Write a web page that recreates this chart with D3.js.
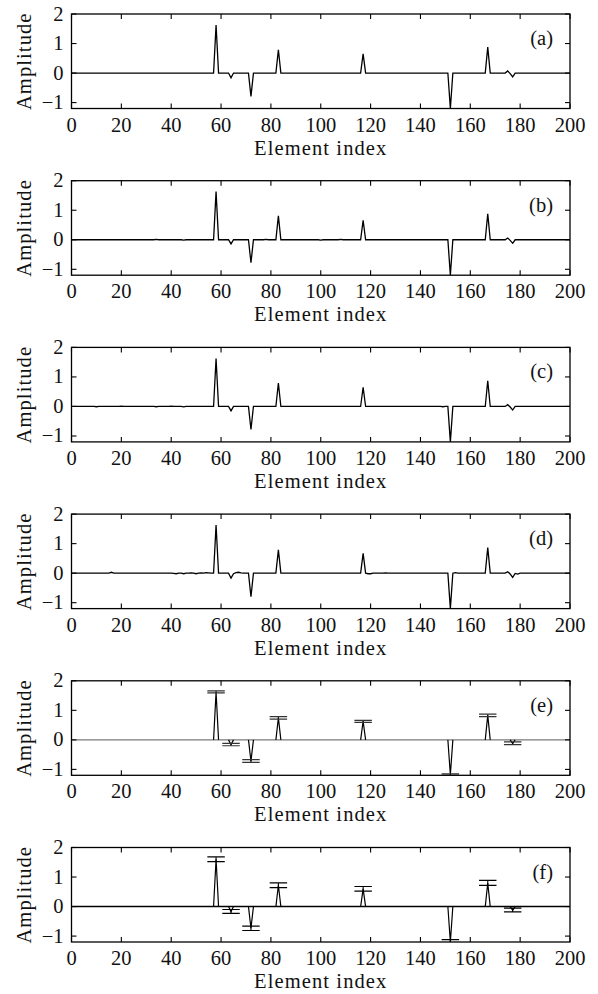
<!DOCTYPE html>
<html>
<head>
<meta charset="utf-8">
<script src="https://cdn.jsdelivr.net/npm/d3@7/dist/d3.min.js"></script>
<style>
  html, body { margin: 0; padding: 0; background: #fff; }
  svg { display: block; }
  text { font-family: "Liberation Serif", "Times New Roman", serif; fill: #111; }
</style>
</head>
<body>
<svg id="chart" width="598" height="994"></svg>
<script>
// Sparse signals: [element index, amplitude] for every non-zero element.
const signalA = [[58,1.63],[64,-0.16],[72,-0.79],[83,0.79],[117,0.65],[152,-1.2],[167,0.88],[175,0.07],[176,-0.02],[177,-0.13]];
const signalB = [[34,0.01],[45,-0.01],[58,1.63],[64,-0.14],[72,-0.78],[78,0.01],[83,0.81],[100,-0.01],[108,0.01],[117,0.66],[152,-1.2],[167,0.88],[175,0.06],[176,-0.02],[177,-0.12]];
const signalC = [[10,-0.01],[20,0.01],[34,-0.01],[40,0.01],[45,-0.015],[58,1.62],[64,-0.15],[72,-0.78],[83,0.79],[117,0.65],[149,-0.01],[152,-1.2],[167,0.87],[175,0.06],[176,-0.02],[177,-0.12]];
const signalD = [[16,0.03],[41,-0.01],[42,-0.02],[45,-0.02],[48,0.01],[50,-0.02],[52,0.01],[54,0.02],[55,0.01],[58,1.63],[64,-0.17],[65,-0.02],[66,0.02],[67,0.03],[68,0.01],[72,-0.8],[83,0.79],[117,0.67],[119,-0.02],[120,-0.02],[126,0.01],[152,-1.2],[154,0.02],[167,0.87],[175,0.05],[176,-0.03],[177,-0.14],[178,-0.01],[179,-0.03]];

// Estimated support with confidence bounds.
const boundIdx = [58, 64, 72, 83, 117, 152, 167, 177];
const meanE = [1.62, -0.16, -0.72, 0.75, 0.63, -1.18, 0.83, -0.12];
const highE = [1.66, -0.12, -0.67, 0.79, 0.66, -1.15, 0.87, -0.07];
const lowE  = [1.59, -0.20, -0.76, 0.70, 0.59, -1.20, 0.79, -0.16];
const meanF = [1.60, -0.17, -0.73, 0.72, 0.60, -1.20, 0.80, -0.12];
const highF = [1.68, -0.10, -0.66, 0.80, 0.68, -1.12, 0.89, -0.05];
const lowF  = [1.52, -0.23, -0.81, 0.64, 0.52, -1.28, 0.72, -0.18];

const xTicks = [0, 20, 40, 60, 80, 100, 120, 140, 160, 180, 200];
const yTicks = [-1, 0, 1, 2];
const yTickLabels = ["\u22121", "0", "1", "2"];
const panelLabels = ["(a)", "(b)", "(c)", "(d)", "(e)", "(f)"];
const xLabel = "Element index";
const yLabel = "Amplitude";
const nElements = 200;

const svg = d3.select("#chart");
const left = 71.5, right = 570, plotH = 94.5, firstTop = 14, step = 166.7;
const x = d3.scaleLinear().domain([0, nElements]).range([left, right]);

// Expand a sparse signal into a value per element index.
function dense(sparse) {
  const m = new Map(sparse);
  return d3.range(0, nElements + 1).map(i => [i, m.has(i) ? m.get(i) : 0]);
}

function drawPanel(k, opts) {
  const top = firstTop + k * step;
  const bottom = top + plotH;
  const y = d3.scaleLinear().domain([-1.2, 2]).range([bottom, top]);
  const g = svg.append("g");
  const clipId = "clip" + k;
  svg.append("clipPath").attr("id", clipId)
    .append("rect").attr("x", left).attr("y", top).attr("width", right - left).attr("height", plotH);
  const plot = g.append("g").attr("clip-path", `url(#${clipId})`);
  const line = d3.line().x(d => x(d[0])).y(d => y(d[1]));

  if (opts.signal) {
    plot.append("path").datum(dense(opts.signal))
      .attr("d", line).attr("fill", "none").attr("stroke", "#000")
      .attr("stroke-width", 1.3).attr("stroke-linejoin", "miter");
  } else {
    // zero baseline, spikes and bounds
    plot.append("path").datum([[0, 0], [nElements, 0]])
      .attr("d", line).attr("fill", "none").attr("stroke", opts.baseColor).attr("stroke-width", 1.4);
    boundIdx.forEach((idx, i) => {
      plot.append("path").datum([[idx - 1, 0], [idx, opts.mean[i]], [idx + 1, 0]])
        .attr("d", line).attr("fill", "none").attr("stroke", "#000").attr("stroke-width", 1.2);
      plot.append("line")
        .attr("x1", x(idx)).attr("x2", x(idx))
        .attr("y1", y(opts.low[i])).attr("y2", y(opts.high[i]))
        .attr("stroke", "#000").attr("stroke-width", 1.1);
      [opts.low[i], opts.high[i]].forEach(v => {
        plot.append("line")
          .attr("x1", x(idx - 3.5)).attr("x2", x(idx + 3.5))
          .attr("y1", y(v)).attr("y2", y(v))
          .attr("stroke", opts.capColor).attr("stroke-width", 1.2);
      });
    });
  }

  // inward ticks on all four sides
  const tl = 5;
  const ticks = g.append("g").attr("stroke", "#000").attr("stroke-width", 1.1);
  xTicks.forEach(t => {
    ticks.append("line").attr("x1", x(t)).attr("x2", x(t)).attr("y1", bottom).attr("y2", bottom - tl);
    ticks.append("line").attr("x1", x(t)).attr("x2", x(t)).attr("y1", top).attr("y2", top + tl);
  });
  yTicks.forEach(t => {
    ticks.append("line").attr("x1", left).attr("x2", left + tl).attr("y1", y(t)).attr("y2", y(t));
    ticks.append("line").attr("x1", right).attr("x2", right - tl).attr("y1", y(t)).attr("y2", y(t));
  });

  g.append("rect").attr("x", left).attr("y", top).attr("width", right - left).attr("height", plotH)
    .attr("fill", "none").attr("stroke", "#000").attr("stroke-width", 1.3);

  // tick labels
  g.append("g").selectAll("text").data(xTicks).join("text")
    .attr("x", d => x(d)).attr("y", bottom + 23)
    .attr("text-anchor", "middle").attr("font-size", 20.5).text(d => d);
  g.append("g").selectAll("text").data(yTicks).join("text")
    .attr("x", left - 8).attr("y", d => y(d) + 6.5)
    .attr("text-anchor", "end").attr("font-size", 20.5).text((d, i) => yTickLabels[i]);

  g.append("text").attr("x", (left + right) / 2).attr("y", bottom + 46)
    .attr("text-anchor", "middle").attr("font-size", 20.5).attr("letter-spacing", 1.1).text(xLabel);
  g.append("text")
    .attr("transform", `translate(${31},${(top + bottom) / 2}) rotate(-90)`)
    .attr("text-anchor", "middle").attr("font-size", 20.5).attr("letter-spacing", 1.1).text(yLabel);

  g.append("text").attr("x", right - 17).attr("y", top + 31)
    .attr("text-anchor", "end").attr("font-size", 20.5).text(panelLabels[k]);
}

drawPanel(0, { signal: signalA });
drawPanel(1, { signal: signalB });
drawPanel(2, { signal: signalC });
drawPanel(3, { signal: signalD });
drawPanel(4, { mean: meanE, high: highE, low: lowE, baseColor: "#7a7a7a", capColor: "#333" });
drawPanel(5, { mean: meanF, high: highF, low: lowF, baseColor: "#000", capColor: "#000" });
</script>
</body>
</html>
